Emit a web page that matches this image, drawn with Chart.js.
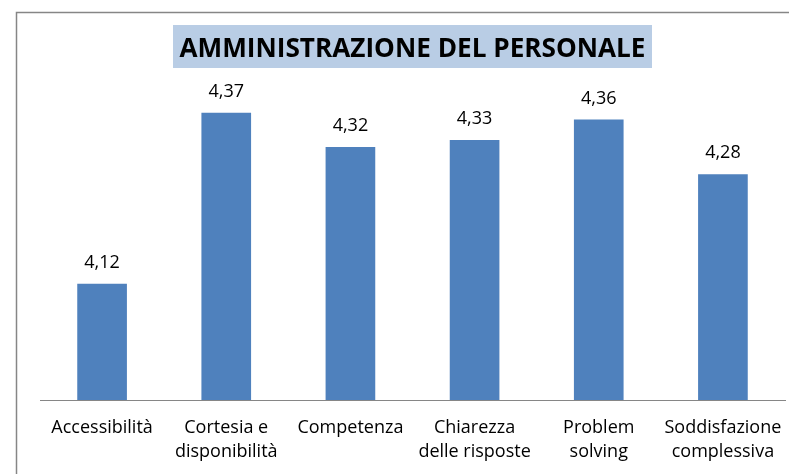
<!DOCTYPE html>
<html>
<head>
<meta charset="utf-8">
<script src="https://cdn.jsdelivr.net/npm/chart.js@4/dist/chart.umd.min.js"></script>
<style>
  html, body { margin: 0; padding: 0; background: #fff; }
  canvas { display: block; }
</style>
</head>
<body>
<canvas id="c" width="789" height="474"></canvas>
<script>
const titleText = 'AMMINISTRAZIONE DEL PERSONALE';
const categories = [
  ['Accessibilità'],
  ['Cortesia e', 'disponibilità'],
  ['Competenza'],
  ['Chiarezza', 'delle risposte'],
  ['Problem', 'solving'],
  ['Soddisfazione', 'complessiva']
];
const values = [4.12, 4.37, 4.32, 4.33, 4.36, 4.28];
const yMin = 3.95;
const yMax = 4.45;

function fmt(v) { return v.toFixed(2).replace('.', ','); }

const deco = {
  id: 'deco',
  beforeDraw(chart) {
    const c = chart.ctx;
    c.save();
    c.fillStyle = '#ffffff';
    c.fillRect(0, 0, chart.width, chart.height);
    c.strokeStyle = '#868686';
    c.lineWidth = 1.5;
    c.strokeRect(16.5, 12.5, 900, 900);
    c.fillStyle = '#B9CDE5';
    c.fillRect(173, 25, 479, 43);
    c.font = 'bold 26px "Open Sans"';
    const w = c.measureText(titleText).width;
    c.translate(412.5, 57);
    c.scale(466 / w, 1);
    c.fillStyle = '#000000';
    c.textAlign = 'center';
    c.textBaseline = 'alphabetic';
    c.fillText(titleText, 0, 0);
    c.restore();
  },
  afterDatasetsDraw(chart) {
    const meta = chart.getDatasetMeta(0);
    const c = chart.ctx;
    c.save();
    c.font = '18px "Open Sans"';
    c.fillStyle = '#000000';
    c.textAlign = 'center';
    c.textBaseline = 'alphabetic';
    meta.data.forEach((bar, i) => {
      c.fillText(fmt(values[i]), bar.x, bar.y - 16);
    });
    c.restore();
  }
};

new Chart(document.getElementById('c'), {
  type: 'bar',
  data: {
    labels: categories,
    datasets: [{
      data: values,
      backgroundColor: '#4F81BD',
      borderWidth: 0,
      barPercentage: 0.4,
      categoryPercentage: 1.0
    }]
  },
  options: {
    responsive: false,
    devicePixelRatio: 1,
    animation: false,
    layout: { padding: { left: 40, right: 4, top: 58, bottom: 0 } },
    plugins: {
      legend: { display: false },
      tooltip: { enabled: false },
      title: { display: false }
    },
    scales: {
      x: {
        grid: { display: false, drawTicks: false },
        border: { display: true, color: '#868686', width: 1 },
        ticks: {
          font: { family: 'Open Sans', size: 18, lineHeight: 1.33 },
          color: '#000000',
          padding: 16,
          maxRotation: 0,
          autoSkip: false
        },
        afterFit(scale) {
          scale.height = 74;
          scale.paddingLeft = 0;
          scale.paddingRight = 0;
        }
      },
      y: {
        display: false,
        min: yMin,
        max: yMax
      }
    }
  },
  plugins: [deco]
});
</script>
</body>
</html>
